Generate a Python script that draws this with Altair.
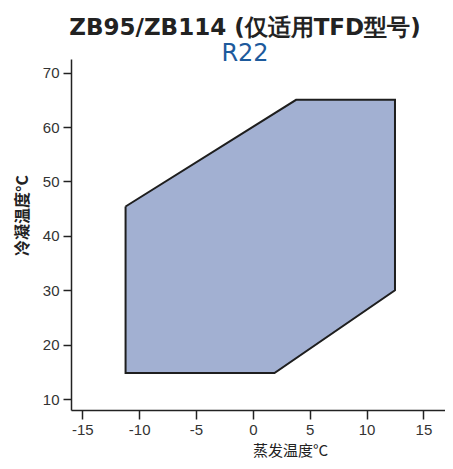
import altair as alt
import pandas as pd

# Envelope vertices (evaporating temp, condensing temp), closed polygon
evap_temp = [-11.2, 3.8, 12.5, 12.5, 1.9, -11.2, -11.2]
cond_temp = [45.4, 65.0, 65.0, 30.0, 14.8, 14.8, 45.4]
order = list(range(len(evap_temp)))

x_ticks = [-15, -10, -5, 0, 5, 10, 15]
y_ticks = [10, 20, 30, 40, 50, 60, 70]

df = pd.DataFrame({"evap": evap_temp, "cond": cond_temp, "ord": order})

chart = alt.Chart(df).mark_line(
    fill="#a2b0d2", stroke="#1e1e1e", strokeWidth=2, strokeJoin="miter"
).encode(
    x=alt.X("evap:Q", scale=alt.Scale(domain=[-16, 16.9], nice=False, zero=False),
            axis=alt.Axis(values=x_ticks, title="蒸发温度°C", titleX=219, titleY=45,
                          labelExpr="datum.value + ''", labelPadding=3,
                          titleFont="Noto Sans CJK SC", titleFontSize=15, titleFontWeight="normal",
                          titleAlign="center", titleBaseline="alphabetic", tickSize=9)),
    y=alt.Y("cond:Q", scale=alt.Scale(domain=[8, 72.5], nice=False, zero=False),
            axis=alt.Axis(values=y_ticks, title="冷凝温度°C", titleX=-49, titleY=156,
                          titleFont="Noto Sans CJK SC", titleFontSize=16, titleFontWeight="bold",
                          titleAlign="center", titleBaseline="middle", tickSize=8)),
    order="ord:Q",
).properties(
    width=374, height=351,
    title=alt.TitleParams(
        text="ZB95/ZB114 (仅适用TFD型号)",
        subtitle="R22",
        font="DejaVu Sans", fontSize=23, fontWeight="bold", color="#222222",
        subtitleFont="DejaVu Sans", subtitleFontSize=24, subtitleColor="#1d5a9c",
        subtitlePadding=2, anchor="middle", dx=-13, offset=-7,
    ),
    autosize=alt.AutoSizeParams(type="none"),
    padding={"left": 63, "top": 51, "right": 0, "bottom": 51},
).configure_view(stroke=None).configure_axis(
    grid=False, domainColor="#222222", domainWidth=1.5, tickColor="#222222", tickWidth=1.5,
    labelFont="Liberation Sans", labelFontSize=15, labelColor="#333333",
    labelPadding=4, titleColor="#222222",
)

chart.save("out.html", embed_options={"renderer": "svg", "actions": False})
